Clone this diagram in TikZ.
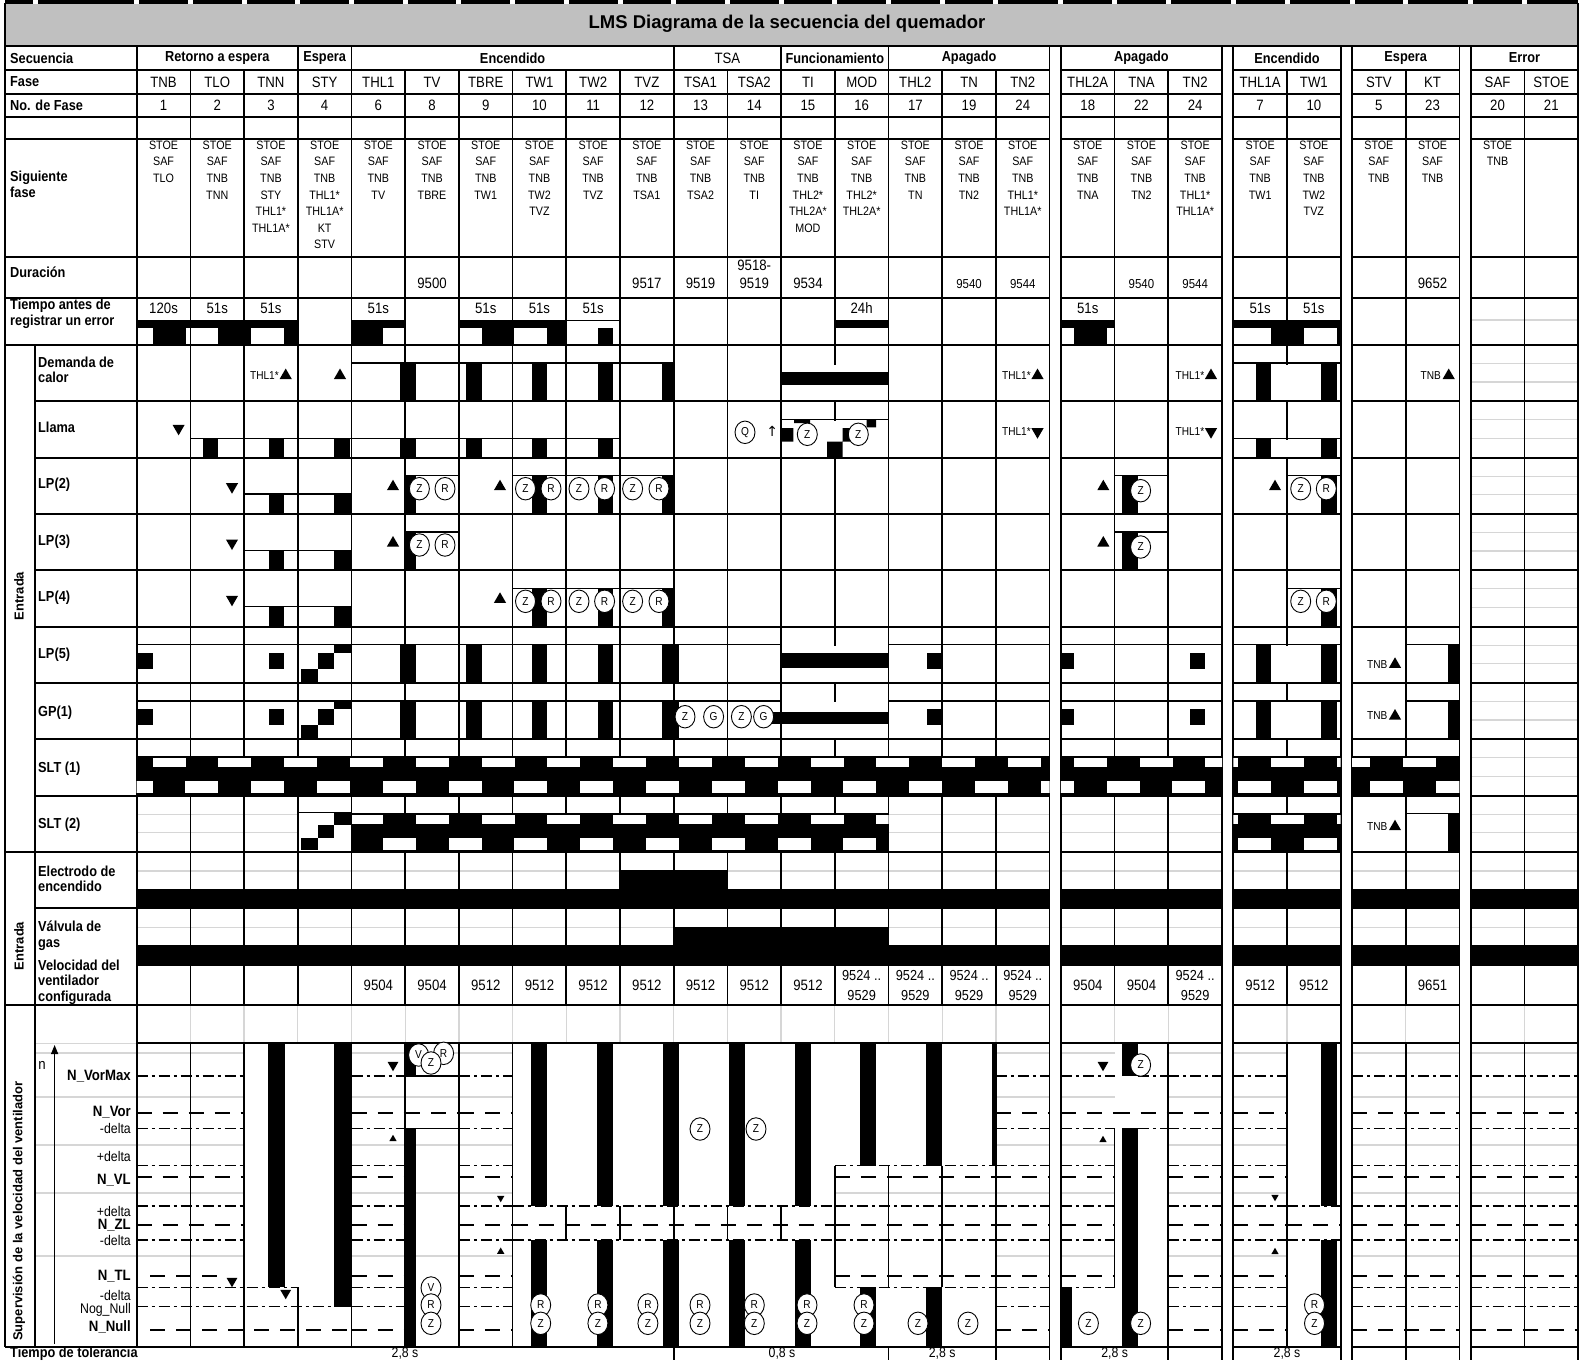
\documentclass[tikz,border=0pt]{standalone}
\usepackage{fontspec}
\setmainfont{Liberation Sans}[FakeStretch=0.88]
\newfontfamily\widefont{Liberation Sans}
\newfontfamily\symfont{DejaVu Sans}
\usetikzlibrary{shapes.geometric, arrows.meta}

\definecolor{TitleGray}{HTML}{C0C0C0}
\definecolor{GridGray}{HTML}{D6D6D6}

% left edge of phase column #1 (px), double rule between the groups
\pgfmathdeclarefunction{cx}{1}{%
  \pgfmathparse{136.7+53.7*#1+11.3*((#1>16.5)+(#1>19.5)+(#1>21.5)+(#1>23.5))}}
% right edge of timing window #1
\pgfmathdeclarefunction{ek}{1}{\pgfmathparse{152.5+65.8*#1}}

\tikzset{
    % Rules
    rule/.style={line width=1.7pt},
    subrule/.style={line width=1.2pt},
    gridgray/.style={draw=GridGray, line width=1.3pt},
    ddash/.style={line width=1.3pt, dash pattern=on 11pt off 4pt on 3pt off 4pt},
    ldash/.style={line width=2.2pt, dash pattern=on 15pt off 11pt},
    % Texts
    hdr/.style={font=\bfseries\fontsize{14.5}{16}\selectfont, inner sep=0},
    cell/.style={font=\fontsize{15}{18}\selectfont, inner sep=0, align=center},
    nextph/.style={font=\fontsize{12.2}{16.6}\selectfont, align=center, anchor=north, inner sep=0},
    lbl/.style={font=\bfseries\fontsize{14.5}{15.5}\selectfont, align=left, anchor=west, inner sep=0},
    lvl/.style={font=\fontsize{14}{14}\selectfont, anchor=east, inner sep=0},
    lvl bold/.style={lvl, font=\bfseries\fontsize{15}{15}\selectfont},
    note/.style={font=\fontsize{11.5}{12}\selectfont, anchor=east, inner sep=0},
    side/.style={font=\widefont\bfseries\fontsize{13}{13}\selectfont, rotate=90, inner sep=0},
    % Markers
    sig/.style={ellipse, draw, fill=white, line width=0.9pt, inner sep=0, minimum width=20pt, minimum height=22.5pt, font=\fontsize{11.5}{11.5}\selectfont},
    tri up/.style={regular polygon, regular polygon sides=3, fill, inner sep=0, minimum size=14pt},
    tri dn/.style={tri up, shape border rotate=180},
    tri mid/.style={minimum size=12.5pt},
    tri sm/.style={minimum size=8.5pt}
}

\begin{document}
\begin{tikzpicture}[x=1pt, y=-1pt]
    \useasboundingbox (0,0) rectangle (1582,1360);

    % Title
    \fill[TitleGray] (5,3) rectangle (1578.1,46);
    \draw[line width=3.5pt] (5,2) -- (1578.1,2);
    \foreach \i in {0,...,25} \fill[white] ({cx(\i)-2.5},0) rectangle ({cx(\i)+2.5},3.9);
    \fill[white] (32.5,0) rectangle (37.5,3.9);
    \node[font=\widefont\bfseries\fontsize{18.5}{20}\selectfont] (title) at (787,24) {LMS Diagrama de la secuencia del quemador};

    % Spreadsheet grid in empty cells
    \draw[gridgray] (1470.7,320) -- (1578.1,320);
    \foreach \t in {345,401.3,457.7,514,570.3,626.7,683,739.3,795.7} {
        \draw[gridgray] (1470.7,\t+18.5) -- (1578.1,\t+18.5);
        \draw[gridgray] (1470.7,\t+37) -- (1578.1,\t+37);
    }
    \foreach \xa/\xb in {136.7/297.8, 888.5/1049.6, 1060.9/1222} {
        \draw[gridgray] (\xa,814.7) -- (\xb,814.7);
        \draw[gridgray] (\xa,832.3) -- (\xb,832.3);
    }
    \foreach \xa/\xb in {136.7/1049.6, 1060.9/1222, 1233.3/1340.7, 1352/1459.4, 1470.7/1578.1} {
        \draw[gridgray] (\xa,871) -- (\xb,871);
        \draw[gridgray] (\xa,927.3) -- (\xb,927.3);
    }
    \foreach \xa/\xb in {35/244.1, 351.5/512.6, 995.9/1049.6, 1060.9/1114.6, 1168.3/1222, 1233.3/1287, 1352/1459.4, 1470.7/1578.1}
        \foreach \yy in {1053,1097,1145,1193,1256}
            \draw[gridgray] (\xa,\yy) -- (\xb,\yy);
    \draw[gridgray] (834.8,1193) -- (995.9,1193);
    \foreach \i in {1,2,3,4,5,6,7,8,9,10,11,12,13,14,15,16,18,19,21,23,25}
        \draw[gridgray] ({cx(\i)},1005) -- ({cx(\i)},1043.3);
    \draw[gridgray] (35,1043.3) -- (136.7,1043.3);

    % Column rules
    \draw[rule] (5,3) -- (5,1346.7);
    \draw[rule] (35,345) -- (35,1346.7);
    \draw[rule] (136.7,46) -- (136.7,1346.7);
    \draw[rule] (1578.1,3) -- (1578.1,46);
    \foreach \xx in {1049.6,1060.9,1222,1233.3,1340.7,1352,1459.4,1470.7,1578.1}
        \draw[rule] (\xx,46) -- (\xx,1360);
    \foreach \i in {3,4,10,12,14} \draw[rule] ({cx(\i)},46) -- ({cx(\i)},70);
    \foreach \i in {1,2,3,4,5,6,7,8,9,10,11,12,13,14,15,16,18,19,21,23,25}
        \draw[rule] ({cx(\i)},70) -- ({cx(\i)},1005);
    \foreach \i in {1,2,4,5,6,7,16,19,21,23,25}
        \draw[rule] ({cx(\i)},1043.3) -- ({cx(\i)},1346.7);
    \draw[rule] ({cx(3)},1287.3) -- ({cx(3)},1346.7);
    \foreach \i in {8,...,12} \draw[rule] ({cx(\i)},1206) -- ({cx(\i)},1240);
    \foreach \i in {13,14,15} \draw[rule] ({cx(\i)},1165.7) -- ({cx(\i)},1287.3);
    \draw[rule] ({cx(18)},1128.3) -- ({cx(18)},1287.3);
    \foreach \i in {10,14,16,19,23} \draw[rule] ({cx(\i)},1346.7) -- ({cx(\i)},1360);

    % merged cells
    \foreach \xx/\ya/\yb in {834.8/364.5/400, 1287/364.5/400, 834.8/420.5/456.8, 1287/439.5/456.8,
        834.8/646/682, 1287/646/682, 834.8/702.3/738.3, 1287/702.3/738.3}
        \fill[white] (\xx-1.5,\ya) rectangle (\xx+1.5,\yb);

    % Signal levels
    \foreach \xa/\ya/\xb in {351.5/363/673.7, 1233.3/363/1340.7,
        190.4/438.3/620, 781.1/419.3/888.5, 1233.3/438.3/1340.7,
        244.1/494/351.5, 405.2/475.7/458.9, 512.6/475.7/673.7, 1114.6/475.7/1168.3, 1287/475.7/1340.7,
        244.1/550.3/351.5, 405.2/532/458.9, 1114.6/532/1168.3,
        244.1/606.6/351.5, 512.6/588.3/673.7, 1287/588.3/1340.7,
        136.7/644.7/781.1, 888.5/644.7/1049.6, 1060.9/644.7/1222, 1233.3/644.7/1340.7, 1405.7/644.7/1459.4,
        136.7/701/781.1, 888.5/701/1049.6, 1060.9/701/1222, 1233.3/701/1340.7, 1405.7/701/1459.4,
        297.8/812.7/351.5, 1405.7/813.7/1459.4}
        \draw[subrule] (\xa,\ya) -- (\xb,\ya);

    % Error timing
    \foreach \xa/\xb in {136.7/297.8, 351.5/405.2, 458.9/566.3, 834.8/888.5, 1060.9/1114.6, 1233.3/1340.7}
        \fill (\xa,320) rectangle (\xb,328);
    \draw[subrule] (566.3,320.6) -- (620,320.6);
    \foreach \xa/\xb in {152.5/185.5, 218.3/251.3, 284.1/297.8, 351.5/382.8, 481.5/514.4, 547.3/566.3,
        597.6/613.1, 1073.7/1106.6, 1271.1/1304, 1336.9/1340.7}
        \fill (\xa,328) rectangle (\xb,345);

    % Demanda de calor
    \foreach \xa/\xb in {400.2/415.7, 466/481.5, 531.8/547.3, 597.6/613.1, 662.4/675, 1255.6/1271.1, 1321.4/1336.9}
        \fill (\xa,363) rectangle (\xb,401.3);
    \fill (781.1,371.7) rectangle (888.5,385);

    % Llama
    \foreach \xa/\xb in {202.8/218.3, 268.6/284.1, 334.4/349.9, 400.2/415.7, 466/481.5, 531.8/547.3,
        597.6/613.1, 1255.6/1271.1, 1321.4/1336.9}
        \fill (\xa,438.3) rectangle (\xb,457.7);
    \fill (781.1,428) rectangle (793.3,441.7) (794,419.3) rectangle (810,423)
        (827,441.7) rectangle (842.7,457.7) (842.7,428) rectangle (851.7,441.7)
        (866.7,419.3) rectangle (876,427.3);

    % LP(2) .. LP(4)
    \foreach \t in {457.7,514,570.3} {
        \fill (268.6,\t+36.3) rectangle (284.1,\t+56.3);
        \fill (334.4,\t+36.3) rectangle (351.5,\t+56.3);
    }
    \foreach \t in {457.7,514} {
        \fill (405.2,\t+18) rectangle (416,\t+56.3);
        \fill (1121.7,\t+18) rectangle (1138,\t+56.3);
    }
    \foreach \t in {457.7,570.3}
        \foreach \xa/\xb in {531.8/547.3, 597.6/613.1, 662.4/673.7, 1321.4/1336.9}
            \fill (\xa,\t+18) rectangle (\xb,\t+56.3);

    % LP(5), GP(1)
    \foreach \t in {626.7,683} {
        \fill (137,\t+26) rectangle (152.5,\t+42);
        \fill (268.6,\t+26) rectangle (284.1,\t+42);
        \fill (301.4,\t+42) rectangle (317.5,\t+56.3);
        \fill (317.5,\t+26) rectangle (334.3,\t+42);
        \fill (334.3,\t+18) rectangle (351.5,\t+26);
        \foreach \xa/\xb in {400.2/415.7, 466/481.5, 531.8/547.3, 597.6/613.1, 662.4/678.9,
            1255.6/1271.1, 1321.4/1336.9, 1448/1459.4}
            \fill (\xa,\t+18) rectangle (\xb,\t+56.3);
        \foreach \xa/\xb in {926.6/942.1, 1060.9/1073.7, 1189.8/1205.3}
            \fill (\xa,\t+26) rectangle (\xb,\t+42);
    }
    \fill (781.1,653) rectangle (888.5,668);
    \fill (760,712) rectangle (888.5,724);

    % SLT (1), SLT (2)
    \foreach \t/\xa/\xb in {739.3/136.7/1049.6, 739.3/1060.9/1222, 739.3/1233.3/1340.7, 739.3/1352/1459.4,
        795.7/351.5/888.5, 795.7/1233.3/1340.7} {
        \begin{scope}
            \clip (\xa,\t+17) rectangle (\xb,\t+56.3);
            \fill (\xa,\t+17) rectangle (\xb,\t+56.3);
            \foreach \k in {0,...,20} {
                \fill[white] ({ek(\k)},\t+19) rectangle ({ek(\k)+33},\t+28);
                \fill[white] ({ek(\k)-33},\t+42) rectangle ({ek(\k)},\t+54);
            }
        \end{scope}
    }
    \fill (301.4,837.7) rectangle (317.5,849.7);
    \fill (317.5,824.7) rectangle (334.3,837.7);
    \fill (334.3,812.7) rectangle (351.5,824.7);
    \fill (1448,813.7) rectangle (1459.4,852);

    % Electrodo, Valvula
    \foreach \xa/\xb in {136.7/1049.6, 1060.9/1222, 1233.3/1340.7, 1352/1459.4, 1470.7/1578.1} {
        \fill (\xa,889) rectangle (\xb,908.3);
        \fill (\xa,945) rectangle (\xb,964.7);
    }
    \fill (620,870) rectangle (727.4,889);
    \fill (673.7,926.7) rectangle (888.5,945);

    % Fan speed levels
    \foreach \xa/\xb in {351.5/405.2, 458.9/512.6, 995.9/1049.6, 1168.3/1222, 1233.3/1287, 1352/1459.4, 1470.7/1578.1} {
        \foreach \yy in {1076,1128.3,1165.7,1206,1240,1287.3,1306.7} \draw[ddash] (\xa,\yy) -- (\xb,\yy);
        \foreach \yy in {1112.7,1176.7,1225,1276,1330} \draw[ldash] (\xa,\yy) -- (\xb,\yy);
    }
    \foreach \yy in {1076,1128.3,1165.7,1206,1240} \draw[ddash] (136.7,\yy) -- (244.1,\yy);
    \foreach \yy in {1112.7,1176.7,1225} \draw[ldash] (136.7,\yy) -- (244.1,\yy);
    \draw[ldash] (150,1276) -- (226,1276);
    \draw[ddash] (136.7,1287.3) -- (297.8,1287.3);
    \draw[ddash] (136.7,1306.7) -- (351.5,1306.7);
    \draw[ldash] (150,1330) -- (351.5,1330);
    \draw[subrule] (405.2,1076) -- (458.9,1076) (416,1128.3) -- (458.9,1128.3);
    \draw[ldash] (405.2,1112.7) -- (458.9,1112.7);
    \draw[ddash] (1138,1076) -- (1168.3,1076) (1138,1128.3) -- (1168.3,1128.3);
    \draw[ldash] (1114.6,1112.7) -- (1168.3,1112.7);
    \foreach \xa/\xb in {512.6/834.8, 1287/1340.7} {
        \draw[ddash] (\xa,1206) -- (\xb,1206) (\xa,1240) -- (\xb,1240);
        \draw[ldash] (\xa,1225) -- (\xb,1225);
    }
    \foreach \yy in {1165.7,1206,1240,1287.3} \draw[ddash] (834.8,\yy) -- (995.9,\yy);
    \foreach \yy in {1176.7,1225,1276} \draw[ldash] (834.8,\yy) -- (995.9,\yy);
    \foreach \yy in {1076,1128.3,1165.7,1206,1240,1287.3} \draw[ddash] (1060.9,\yy) -- (1114.6,\yy);
    \foreach \yy in {1112.7,1176.7,1225,1276} \draw[ldash] (1060.9,\yy) -- (1114.6,\yy);

    % Fan speed bars
    \fill (268,1043.3) rectangle (285,1287.3);
    \fill (334,1043.3) rectangle (351.5,1306.7);
    \fill (405.2,1043.3) rectangle (416,1076);
    \fill (405.2,1128.3) rectangle (416,1346.7);
    \foreach \xa/\xb in {531.3/547.3, 597.1/613.1, 662.9/678.9, 728.7/744.7, 794.5/810.5, 1321/1336.9} {
        \fill (\xa,1043.3) rectangle (\xb,1206);
        \fill (\xa,1240) rectangle (\xb,1346.7);
    }
    \foreach \xa/\xb in {860.3/876.3, 926.1/942.1} {
        \fill (\xa,1043.3) rectangle (\xb,1165.7);
        \fill (\xa,1287.3) rectangle (\xb,1346.7);
    }
    \fill (991.5,1043.3) rectangle (996.6,1165.7);
    \fill (1060.9,1287.3) rectangle (1071.6,1346.7);
    \fill (1121.7,1043.3) rectangle (1138,1076);
    \fill (1121.7,1128.3) rectangle (1138,1346.7);

    % Row rules
    \foreach \yy/\xa in {70/5, 94/5, 116.7/5, 139.3/5, 256.7/5, 298.3/5, 345/5, 401.3/35, 457.7/35, 514/35,
        570.3/35, 626.7/35, 683/35, 739.3/35, 795.7/35, 852/5, 908.3/35, 964.7/136.7, 1005/5,
        1043.3/136.7, 1346.7/5} {
        \draw[rule] (\xa,\yy) -- (1049.6,\yy);
        \foreach \xl/\xr in {1060.9/1222, 1233.3/1340.7, 1352/1459.4, 1470.7/1578.1}
            \draw[rule] (\xl,\yy) -- (\xr,\yy);
    }
    \draw[rule] (5,46) -- (1578.1,46);

    % Header rows
    \node[lbl] (lsec) at (10,58) {Secuencia};
    \node[lbl] (lfase) at (10,82) {Fase};
    \node[lbl] (lnum) at (10,105.5) {No. de Fase};
    \node[lbl] (lsig) at (10,184.5) {Siguiente\\fase};
    \node[lbl] (ldur) at (10,272) {Duración};
    \node[lbl] (ltpo) at (10,314) {Tiempo antes de\\registrar un error};
    \foreach \xx/\tx [count=\n] in {217.25/Retorno a espera, 324.65/Espera, 512.6/Encendido, 834.8/Funcionamiento,
        969.05/Apagado, 1141.45/Apagado, 1287/Encendido, 1405.7/Espera, 1524.4/Error}
        \node[hdr] (seq\n) at (\xx,58) {\tx};
    \node[cell] (seqtsa) at (727.4,58) {TSA};
    \foreach \f [count=\i from 0] in {TNB,TLO,TNN,STY,THL1,TV,TBRE,TW1,TW2,TVZ,TSA1,TSA2,TI,MOD,THL2,TN,TN2,
        THL2A,TNA,TN2,THL1A,TW1,STV,KT,SAF,STOE}
        \node[cell] (fase\i) at ({cx(\i)+26.85},82) {\f};
    \foreach \f [count=\i from 0] in {1,2,3,4,6,8,9,10,11,12,13,14,15,16,17,19,24,18,22,24,7,10,5,23,20,21}
        \node[cell] (nr\i) at ({cx(\i)+26.85},105.5) {\f};
    \foreach \s [count=\i from 0] in {{STOE\\SAF\\TLO}, {STOE\\SAF\\TNB\\TNN},
        {STOE\\SAF\\TNB\\STY\\THL1*\\THL1A*}, {STOE\\SAF\\TNB\\THL1*\\THL1A*\\KT\\STV},
        {STOE\\SAF\\TNB\\TV}, {STOE\\SAF\\TNB\\TBRE}, {STOE\\SAF\\TNB\\TW1}, {STOE\\SAF\\TNB\\TW2\\TVZ},
        {STOE\\SAF\\TNB\\TVZ}, {STOE\\SAF\\TNB\\TSA1}, {STOE\\SAF\\TNB\\TSA2}, {STOE\\SAF\\TNB\\TI},
        {STOE\\SAF\\TNB\\THL2*\\THL2A*\\MOD}, {STOE\\SAF\\TNB\\THL2*\\THL2A*}, {STOE\\SAF\\TNB\\TN},
        {STOE\\SAF\\TNB\\TN2}, {STOE\\SAF\\TNB\\THL1*\\THL1A*}, {STOE\\SAF\\TNB\\TNA}, {STOE\\SAF\\TNB\\TN2},
        {STOE\\SAF\\TNB\\THL1*\\THL1A*}, {STOE\\SAF\\TNB\\TW1}, {STOE\\SAF\\TNB\\TW2\\TVZ},
        {STOE\\SAF\\TNB}, {STOE\\SAF\\TNB}, {STOE\\TNB}, {}}
        \node[nextph] (nxt\i) at ({cx(\i)+26.85},140.5) {\s};
    \foreach \i/\v in {5/9500, 9/9517, 10/9519, 12/9534, 23/9652}
        \node[cell] (dur\i) at ({cx(\i)+26.85},283) {\v};
    \node[cell] (dur11) at ({cx(11)+26.85},274) {9518-\\9519};
    \foreach \i/\v in {15/9540, 16/9544, 18/9540, 19/9544}
        \node[cell, font=\fontsize{13}{14}\selectfont] (dur\i) at ({cx(\i)+26.85},284) {\v};
    \foreach \i/\v in {0/120s, 1/51s, 2/51s, 4/51s, 6/51s, 7/51s, 8/51s, 13/24h, 17/51s, 20/51s, 21/51s}
        \node[cell] (tpo\i) at ({cx(\i)+26.85},308) {\v};

    % Signal labels
    \node[side] (entrada1) at (19,596) {Entrada};
    \node[side] (entrada2) at (19,946) {Entrada};
    \node[side] (superv) at (19,1211) {Supervisión de la velocidad del ventilador};
    \node[lbl] (ldem) at (38,370) {Demanda de\\calor};
    \node[lbl] (lllama) at (38,427.7) {Llama};
    \node[lbl] (llp2) at (38,485) {LP(2)};
    \node[lbl] (llp3) at (38,541.5) {LP(3)};
    \node[lbl] (llp4) at (38,598) {LP(4)};
    \node[lbl] (llp5) at (38,655) {LP(5)};
    \node[lbl] (lgp1) at (38,712.5) {GP(1)};
    \node[lbl] (lslt1) at (38,768.3) {SLT (1)};
    \node[lbl] (lslt2) at (38,825) {SLT (2)};
    \node[lbl] (lelec) at (38,879) {Electrodo de\\encendido};
    \node[lbl] (lvalv) at (38,935.7) {Válvula de\\gas};
    \node[lbl] (lvel) at (38,982) {Velocidad del\\ventilador\\configurada};
    \foreach \i/\v in {4/9504, 5/9504, 6/9512, 7/9512, 8/9512, 9/9512, 10/9512, 11/9512, 12/9512,
        17/9504, 18/9504, 20/9512, 21/9512, 23/9651}
        \node[cell] (vel\i) at ({cx(\i)+26.85},985) {\v};
    \foreach \i in {13,14,15,16,19}
        \node[cell, font=\fontsize{14.5}{20}\selectfont] (vel\i) at ({cx(\i)+26.85},985) {9524 ..\\9529};

    % Fan speed labels
    \coordinate (nbot) at (54.6,1344);
    \coordinate (ntop) at (54.6,1045);
    \draw[line width=1.2pt, -{Triangle[length=9pt, width=7pt]}] (nbot) -- (ntop);
    \node[font=\fontsize{15}{15}\selectfont, inner sep=0] (nlbl) at (42,1065) {n};
    \foreach \yy/\tx [count=\n] in {1076/N\_VorMax, 1112.7/N\_Vor, 1180/N\_VL, 1225/N\_ZL, 1276/N\_TL, 1326.7/N\_Null}
        \node[lvl bold] (lvb\n) at (131,\yy) {\tx};
    \foreach \yy/\tx [count=\n] in {1128/-delta, 1156/+delta, 1211.7/+delta, 1240/-delta, 1295/-delta, 1310/Nog\_Null}
        \node[lvl] (lvn\n) at (131,\yy) {\tx};
    \node[lbl] (ltol) at (10,1354) {Tiempo de tolerancia};
    \foreach \xx/\tx [count=\n] in {405/{2,8 s}, 782/{0,8 s}, 942.2/{2,8 s}, 1114.6/{2,8 s}, 1287/{2,8 s}}
        \node[cell, font=\fontsize{14}{14}\selectfont] (tol\n) at (\xx,1353) {\tx};

    % Markers
    \node[sig] (q1) at (745,432.3) {Q};
    \node[font=\symfont\fontsize{14}{14}\selectfont, inner sep=0] (arrq) at (772.3,431.7) {↑};
    \node[sig] (zl1) at (807.3,434.3) {Z};
    \node[sig] (zl2) at (858.3,434.3) {Z};
    \foreach \yy [count=\n] in {488.7,545} {
        \node[sig] (tvz\n) at (419.4,\yy) {Z};
        \node[sig] (tvr\n) at (445,\yy) {R};
        \node[sig] (tnaz\n) at (1140.6,\yy+2) {Z};
    }
    \foreach \yy [count=\n] in {488.7,601.3}
        \foreach \xx/\tx [count=\m] in {525.5/Z, 551/R, 579/Z, 604.6/R, 632.6/Z, 659/R, 1300.7/Z, 1326.3/R}
            \node[sig] (tw\n-\m) at (\xx,\yy) {\tx};
    \foreach \xx/\tx [count=\m] in {685/Z, 713.6/G, 741.4/Z, 763.6/G}
        \node[sig] (gp\m) at (\xx,716.7) {\tx};
    \node[sig] (tvv1) at (418.6,1055) {V};
    \node[sig] (tvr3) at (443.6,1053.3) {R};
    \node[sig] (tvz3) at (431,1063) {Z};
    \node[sig] (tvv2) at (431,1288) {V};
    \node[sig] (tvr4) at (431,1305) {R};
    \node[sig] (tvz4) at (431,1323.3) {Z};
    \foreach \xx [count=\m] in {540.7,597.9,647.9,700,754.3,807,864,1314.5} {
        \node[sig] (rr\m) at (\xx,1305) {R};
        \node[sig] (rz\m) at (\xx,1323.3) {Z};
    }
    \foreach \xx [count=\m] in {918,968,1088.4,1140.6} \node[sig] (nz\m) at (\xx,1323.3) {Z};
    \node[sig] (tsz1) at (700,1129) {Z};
    \node[sig] (tsz2) at (756,1129) {Z};
    \node[sig] (tnaz3) at (1140.6,1065) {Z};

    % Triangles
    \foreach \xx/\yy [count=\m] in {285.7/375.5, 340/375.5, 1037.5/375.5, 1211/375.5, 1448.7/375.5,
        393/486.7, 500/486.7, 1103.3/486.7, 1275/486.7, 393/543, 1103.3/543, 500/599.3,
        1395/664.3, 1395/716, 1395/826.7}
        \node[tri up] (up\m) at (\xx,\yy) {};
    \foreach \xx/\yy [count=\m] in {178.6/428.3, 1037.5/431.7, 1211/431.7, 232/486.7, 232/543, 232/599.3}
        \node[tri dn] (dn\m) at (\xx,\yy) {};
    \foreach \xx/\yy [count=\m] in {232/1281, 285.7/1293, 393/1065, 1103/1065}
        \node[tri dn, tri mid] (cdn\m) at (\xx,\yy) {};
    \foreach \xx/\yy [count=\m] in {500.7/1198, 1275/1197}
        \node[tri dn, tri sm] (sdn\m) at (\xx,\yy) {};
    \foreach \xx/\yy [count=\m] in {393/1139, 500.7/1251.7, 1103/1140, 1275/1252}
        \node[tri up, tri sm] (sup\m) at (\xx,\yy) {};
    \foreach \xx/\yy/\tx [count=\m] in {279/376/THL1*, 1031/376/THL1*, 1204.5/376/THL1*, 1031/432/THL1*,
        1204.5/432/THL1*, 1441/376/TNB, 1387.5/664.3/TNB, 1387.5/716/TNB, 1387.5/826.7/TNB}
        \node[note] (nt\m) at (\xx,\yy) {\tx};
\end{tikzpicture}
\end{document}
